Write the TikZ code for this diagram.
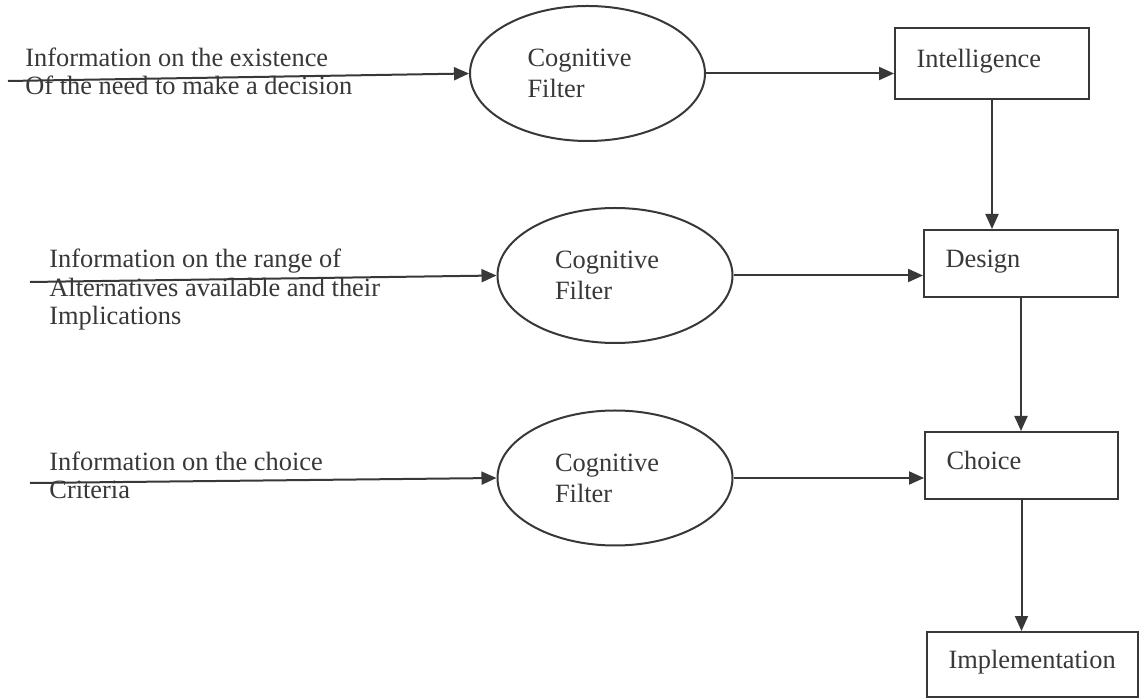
\documentclass[tikz,border=0pt]{standalone}
\usepackage{fontspec}
\setmainfont{Liberation Serif}
\usetikzlibrary{arrows.meta,shapes.geometric}
\definecolor{ink}{gray}{0.22}
\begin{document}
\begin{tikzpicture}[x=0.5pt,y=-0.5pt,
  every node/.style={text=ink},
  txt/.style={font=\fontsize{13.2}{14.4}\selectfont},
  lab/.style={txt,anchor=base west,inner sep=0pt,align=left},
  filt/.style={draw=ink,line width=1pt,ellipse,minimum width=117.5pt,minimum height=67.5pt,
    inner sep=0pt,text width=60pt,align=left,font=\fontsize{13.2}{15.4}\selectfont},
  stage/.style={draw=ink,line width=1pt,rectangle,inner xsep=10.75pt,inner ysep=0pt,
    align=left,txt,text height=9pt,text depth=5pt},
  flow/.style={draw=ink,line width=1pt,-{Triangle[length=7.5pt,width=6.5pt]}}
]
\useasboundingbox[fill=white] (0,0) rectangle (1140,699);

% left labels (base anchor = baseline of last line)
\node[lab] (l1) at (25,95) {Information on the existence\\Of the need to make a decision};
\node[lab] (l2) at (49,325) {Information on the range of\\Alternatives available and their\\Implications};
\node[lab] (l3) at (49,499) {Information on the choice\\Criteria};

\coordinate (s1) at (8,81);
\coordinate (s2) at (30,282);
\coordinate (s3) at (30,483);

% cognitive filters
\node[filt] (e1) at (587.5,73.5) {Cognitive\\Filter};
\node[filt] (e2) at (615,275.5) {Cognitive\\Filter};
\node[filt] (e3) at (615,478) {Cognitive\\Filter};

% stages
\node[stage,minimum width=97pt,minimum height=35.5pt,text width=75.5pt] (intel) at (992,63.5) {Intelligence};
\node[stage,minimum width=97pt,minimum height=33.5pt,text width=75.5pt] (design) at (1021,263.5) {Design};
\node[stage,minimum width=96.5pt,minimum height=33.5pt,text width=75pt] (choice) at (1021.5,465.5) {Choice};
\node[stage,minimum width=105.5pt,minimum height=32.5pt,text width=84pt] (impl) at (1032.5,664.5) {Implementation};

% connectors
\draw[flow] (s1) -- (e1.west);
\draw[flow] (s2) -- (e2.west);
\draw[flow] (s3) -- (e3.west);
\draw[flow] (e1.east) -- (intel.west |- e1.east);
\draw[flow] (e2.east) -- (design.west |- e2.east);
\draw[flow] (e3.east) -- (choice.west |- e3.east);
\draw[flow] (intel.south) -- (intel.south |- design.north);
\draw[flow] (design.south) -- (design.south |- choice.north);
\draw[flow] (choice.south) -- (choice.south |- impl.north);
\end{tikzpicture}
\end{document}
